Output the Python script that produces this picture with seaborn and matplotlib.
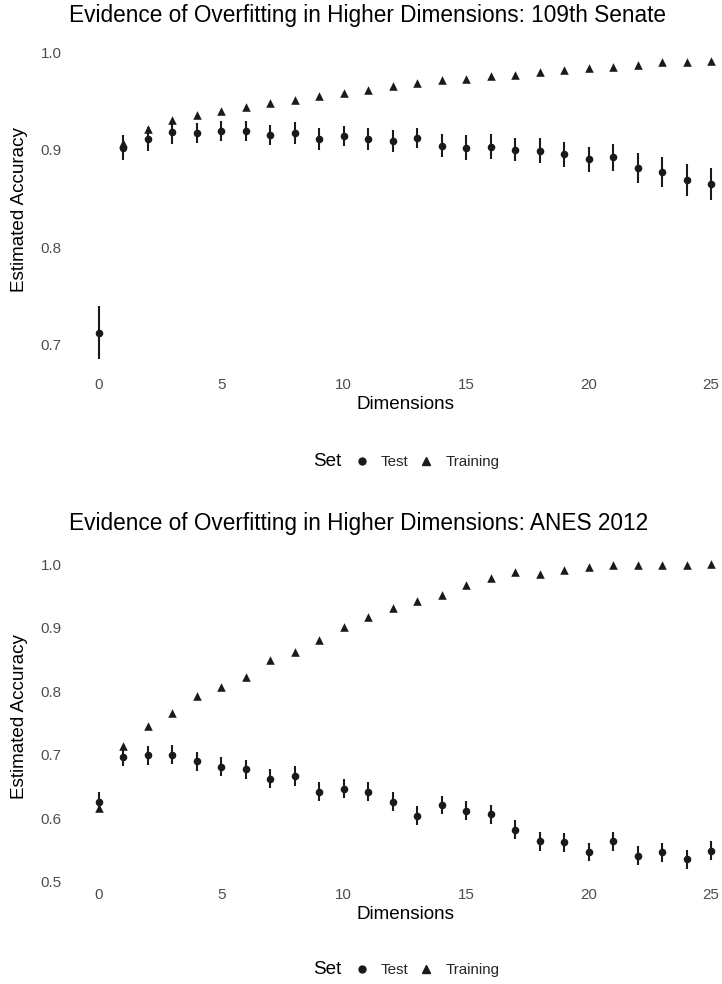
import numpy as np
import pandas as pd
import matplotlib
matplotlib.use("Agg")
import matplotlib.pyplot as plt
import seaborn as sns
from matplotlib.lines import Line2D

# ---------------- data ----------------
dims = list(range(26))

senate_test = [0.712, 0.902, 0.911, 0.918, 0.917, 0.919, 0.919, 0.915, 0.917, 0.911,
               0.914, 0.911, 0.909, 0.912, 0.904, 0.902, 0.903, 0.900, 0.899, 0.895,
               0.890, 0.892, 0.881, 0.877, 0.869, 0.865]
senate_test_err = [0.027, 0.0125, 0.0124, 0.0124, 0.010, 0.010, 0.010, 0.010, 0.011, 0.011,
                   0.0105, 0.0115, 0.011, 0.010, 0.012, 0.0125, 0.0125, 0.0117, 0.013, 0.013,
                   0.013, 0.0135, 0.015, 0.015, 0.0167, 0.0166]
senate_train = [np.nan, 0.907, 0.921, 0.930, 0.935, 0.940, 0.944, 0.948, 0.951, 0.955,
                0.958, 0.961, 0.965, 0.968, 0.971, 0.972, 0.976, 0.977, 0.980, 0.982,
                0.984, 0.985, 0.987, 0.990, 0.990, 0.991]

anes_test = [0.626, 0.696, 0.699, 0.700, 0.690, 0.681, 0.677, 0.662, 0.666, 0.642,
             0.646, 0.642, 0.626, 0.604, 0.621, 0.612, 0.606, 0.582, 0.564, 0.562,
             0.547, 0.564, 0.541, 0.546, 0.535, 0.549]
anes_test_err = [0.0145, 0.0145, 0.0145, 0.0145, 0.015, 0.015, 0.015, 0.0147, 0.0155, 0.015,
                 0.015, 0.015, 0.0147, 0.0155, 0.0144, 0.0147, 0.015, 0.015, 0.015, 0.015,
                 0.0145, 0.015, 0.015, 0.0147, 0.0147, 0.0145]
anes_train = [0.616, 0.713, 0.745, 0.766, 0.792, 0.806, 0.822, 0.849, 0.862, 0.880,
              0.901, 0.917, 0.931, 0.942, 0.951, 0.968, 0.978, 0.987, 0.985, 0.991,
              0.995, 0.998, 0.999, 0.999, 0.999, 1.000]

titles = ["Evidence of Overfitting in Higher Dimensions: 109th Senate",
          "Evidence of Overfitting in Higher Dimensions: ANES 2012"]
set_labels = ["Test", "Training"]
x_ticks = [0, 5, 10, 15, 20, 25]
y_ticks_top = [0.7, 0.8, 0.9, 1.0]
y_ticks_bottom = [0.5, 0.6, 0.7, 0.8, 0.9, 1.0]

# ---------------- style ----------------
sns.set_theme(style="white")
plt.rcParams["font.family"] = ["Liberation Sans", "DejaVu Sans"]

W, H = 722, 984
fig = plt.figure(figsize=(W / 100, H / 100), dpi=100)
fig.patch.set_facecolor("white")


def rect(l, t, r, b):
    return [l / W, 1 - b / H, (r - l) / W, (b - t) / H]


def make_df(test, err, train):
    test_df = pd.DataFrame({"Dimensions": dims, "Accuracy": test, "err": err, "Set": "Test"})
    train_df = pd.DataFrame({"Dimensions": dims, "Accuracy": train, "err": np.nan, "Set": "Training"})
    return pd.concat([test_df, train_df], ignore_index=True).dropna(subset=["Accuracy"])


panels = [
    (make_df(senate_test, senate_test_err, senate_train), titles[0], y_ticks_top,
     (68.4, 46, 741.6, 374), 22, 462),
    (make_df(anes_test, anes_test_err, anes_train), titles[1], y_ticks_bottom,
     (68.4, 549, 741.6, 884), 530, 970),
]

ink = "#1a1a1a"
for df, title, yt, box, title_y, leg_y in panels:
    ax = fig.add_axes(rect(*box))
    tr = df[df["Set"] == "Training"]
    te = df[df["Set"] == "Test"]
    sns.scatterplot(data=tr, x="Dimensions", y="Accuracy", marker="^", color=ink,
                    s=38, linewidth=0, ax=ax, legend=False, zorder=2)
    ax.errorbar(te["Dimensions"], te["Accuracy"], yerr=te["err"], fmt="none",
                ecolor=ink, elinewidth=1.5, capsize=0, zorder=3)
    sns.scatterplot(data=te, x="Dimensions", y="Accuracy", marker="o", color=ink,
                    s=30, linewidth=0, ax=ax, legend=False, zorder=4)
    ax.margins(x=0.05, y=0.05)
    ax.set_xticks(x_ticks)
    ax.set_xticklabels([str(v) for v in x_ticks])
    ax.set_yticks(yt)
    ax.set_yticklabels([f"{v:.1f}" for v in yt])
    for s in ax.spines.values():
        s.set_visible(False)
    ax.grid(False)
    ax.tick_params(axis="both", length=0, labelsize=10.9, colors="#4d4d4d")
    ax.tick_params(axis="x", pad=3)
    ax.tick_params(axis="y", pad=4.8)
    ax.set_xlabel("Dimensions", fontsize=13.6, color="black", labelpad=3)
    ax.set_ylabel("")
    l, t, r, b = box
    fig.text(20 / W, 1 - (t + b) / 2 / H, "Estimated Accuracy", rotation=90,
             ha="center", va="center", fontsize=13.6, color="black")
    fig.text(69 / W, 1 - title_y / H, title, ha="left", va="baseline",
             fontsize=16.3, color="black")
    # legend
    fig.text(341 / W, 1 - leg_y / H, "Set", ha="right", va="center", fontsize=13.6, color="black")
    handles = [Line2D([], [], marker="o", linestyle="none", color=ink, markersize=5),
               Line2D([], [], marker="^", linestyle="none", color=ink, markersize=5.5)]
    fig.legend(handles, set_labels, loc="center left", bbox_to_anchor=(354 / W, 1 - leg_y / H),
               ncol=2, frameon=False, fontsize=10.9, handlelength=1.0, handletextpad=0.75,
               columnspacing=0.7, borderpad=0, borderaxespad=0)

fig.savefig("out.png", dpi=100, facecolor="white")
